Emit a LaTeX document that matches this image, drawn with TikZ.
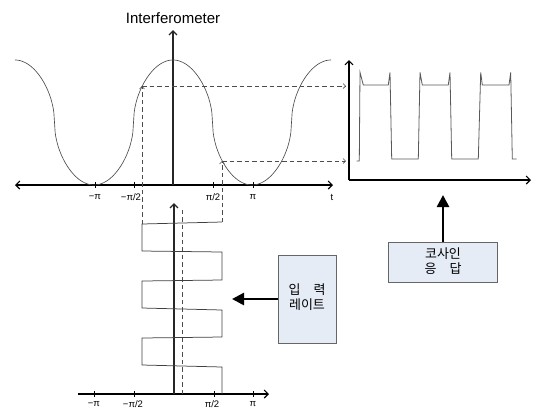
\documentclass[tikz,border=0pt]{standalone}
\usepackage{fontspec}
\setmainfont{Liberation Sans}
\newfontfamily\kr{Noto Sans CJK KR}
\usetikzlibrary{arrows.meta}
\definecolor{boxfill}{RGB}{230,236,246}
\begin{document}
\begin{tikzpicture}[x=1pt,y=-1pt,
  axis/.style={line width=1.1pt, black},
  vaxis/.style={line width=1.4pt, black!85},
  curve/.style={line width=0.65pt, black!70},
  guide/.style={dash pattern=on 4.5pt off 3pt, line width=0.65pt, black!70},
  barb/.style={-{Straight Barb[length=4pt,width=8pt]}},
  smallbarb/.style={-{Straight Barb[length=2.5pt,width=5pt]}},
  tk/.style={font=\fontsize{9.5}{11}\selectfont, inner sep=0pt},
  tick/.style={line width=0.7pt, black},
  box/.style={draw=black!60, fill=boxfill, line width=0.8pt, inner sep=0pt},
  krtext/.style={font=\kr\fontsize{13}{16}\selectfont, align=center},
  bigarrow/.style={line width=2.6pt, -{Triangle[length=12pt,width=12pt]}},
]
\useasboundingbox (0,0) rectangle (533,408);

% ---------- upper chart ----------
\coordinate (ta-l) at (15,185);
\coordinate (ta-r) at (333,185);
\coordinate (tv-b) at (173,185);
\coordinate (tv-t) at (173,30);
\draw[axis,{Straight Barb[length=4pt,width=8pt]}-{Straight Barb[length=4pt,width=8pt]}] (ta-l) -- (ta-r);
\draw[vaxis,barb] (tv-b) -- (tv-t);
\node[font=\fontsize{15}{17}\selectfont, inner sep=0pt] (title) at (173,18) {Interferometer};

\draw[curve] plot[domain=-360:360, samples=481]
  ({173+\x*0.43889}, {122.5-62.5*cos(\x)/sqrt(abs(cos(\x))+0.0002)});

\foreach \p in {95,134,213,253} \draw[tick] (\p,182) -- (\p,188);
\node[tk] (u1) at (95,197) {−π};
\node[tk] (u2) at (131,197) {−π/2};
\node[tk] (u3) at (213,197) {π/2};
\node[tk] (u4) at (253,197) {π};
\node[tk] (ut) at (332,197) {t};

% ---------- right chart ----------
\coordinate (ra-o) at (349,180);
\coordinate (ra-t) at (349,60);
\coordinate (ra-r) at (531,180);
\draw[axis,barb] (ra-o) -- (ra-t);
\draw[axis,barb] (ra-o) -- (ra-r);
\draw[curve, line width=0.8pt, black!65]
  (356.7,161) -- (359.3,161) -- (360,72.3) -- (363.3,85) -- (388.3,85) -- (390,72.3) -- (391.7,159)
  -- (418.3,159) -- (420,72.3) -- (422.3,85) -- (448.3,85) -- (450,72.3) -- (451.7,159)
  -- (478.3,159) -- (480.7,72.3) -- (482.3,85) -- (509,85) -- (510.7,72.3) -- (512.3,159) -- (516.7,159);

% ---------- lower chart ----------
\coordinate (la-l) at (78,394);
\coordinate (la-r) at (269,394);
\coordinate (lv-b) at (174,394);
\coordinate (lv-t) at (174,203);
\draw[axis,barb] (la-l) -- (la-r);
\draw[vaxis,barb] (lv-b) -- (lv-t);
\coordinate (ld-b) at (182,394);
\coordinate (ld-t) at (182,207);
\draw[guide] (ld-b) -- (ld-t);
\foreach \p in {94,134,214,253} \draw[tick] (\p,391) -- (\p,397);
\node[tk] (l1) at (94,404) {−π};
\node[tk] (l2) at (133,404) {−π/2};
\node[tk] (l3) at (212,404) {π/2};
\node[tk] (l4) at (253,404) {π};

% zigzag input
\coordinate (zl) at (142,224);
\coordinate (zr) at (222,222);
\draw[curve, line width=0.75pt, black!75]
  (222,394) -- (222,367) -- (142,365) -- (142,338) -- (222,337) -- (222,310) -- (142,308)
  -- (142,281) -- (222,280) -- (222,252) -- (142,251) -- (zl) -- (zr);

% guides from input to curve to response
\coordinate (cl) at (142,86);
\coordinate (cr) at (222,161);
\coordinate (rl) at (346,86);
\coordinate (rr) at (346,161);
\draw[guide,smallbarb] (zl) -- (cl);
\draw[guide,smallbarb] (zr) -- (cr);
\draw[guide,smallbarb] (cl) -- (rl);
\draw[guide,smallbarb] (cr) -- (rr);

% ---------- boxes ----------
\node[box, minimum width=109pt, minimum height=40pt] (resp) at (442.5,262) {};
\node[krtext] (respt) at (443,261) {코사인\\[-1pt]응\hspace{1em}답};
\node[box, minimum width=58pt, minimum height=88pt] (rate) at (307,299) {};
\node[krtext] (ratet) at (307,297.5) {입\hspace{1em}력\\[-1pt]레이트};

\coordinate (resp-tip) at (443,195);
\coordinate (rate-tip) at (232,299);
\draw[bigarrow] (resp.north -| resp-tip) -- (resp-tip);
\draw[bigarrow] (rate.west |- rate-tip) -- (rate-tip);
\end{tikzpicture}
\end{document}
